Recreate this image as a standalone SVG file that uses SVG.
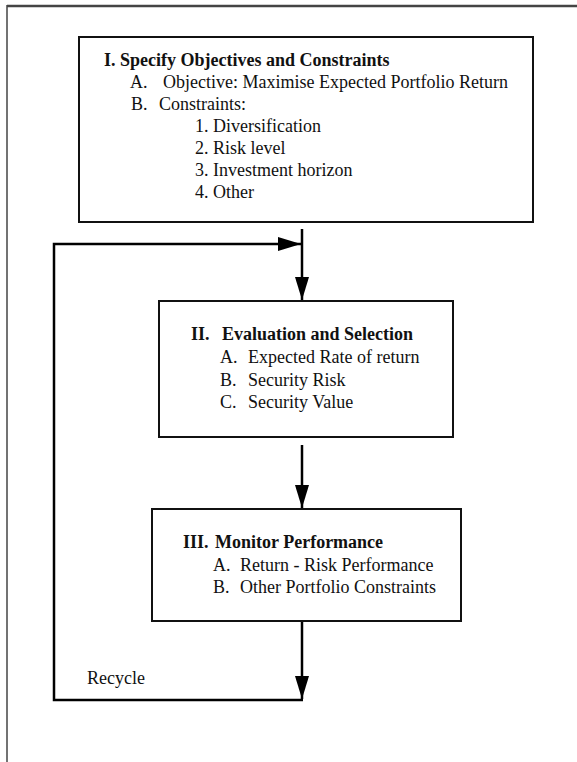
<svg xmlns="http://www.w3.org/2000/svg" width="577" height="762" viewBox="0 0 577 762">
<style>
  text { font-family: "Liberation Serif", "Times New Roman", serif; font-size: 18px; fill: #111; }
  .b { font-weight: bold; }
  .box { fill: #fff; stroke: #111; stroke-width: 2; }
  .frame { stroke: #444; fill: none; }
  .conn { stroke: #000; stroke-width: 2.5; fill: none; }
</style>
<defs>
  <marker id="ah" markerUnits="userSpaceOnUse" markerWidth="24" markerHeight="16" refX="23" refY="7" orient="auto">
    <path d="M0,0 L23,7 L0,14 Z" fill="#000"/>
  </marker>
</defs>
<rect width="577" height="762" fill="#fff"/>
<g id="frame">
  <line class="frame" x1="7" y1="6" x2="577" y2="6" stroke-width="2.5"/>
  <line class="frame" x1="7" y1="5" x2="7" y2="762" stroke-width="1.5"/>
</g>
<g id="connectors">
  <path class="conn" d="M302,229 V300" marker-end="url(#ah)"/>
  <path class="conn" d="M302,445 V508" marker-end="url(#ah)"/>
  <path class="conn" d="M302,621 V699" marker-end="url(#ah)"/>
  <path class="conn" d="M303,700 H54 V244 H301" marker-end="url(#ah)"/>
  <text x="87" y="684">Recycle</text>
</g>
<g id="node1">
  <rect class="box" x="79" y="37" width="454" height="185"/>
  <text class="b" x="104" y="66">I. Specify Objectives and Constraints</text>
  <text x="130" y="88">A.</text><text x="163" y="88">Objective: Maximise Expected Portfolio Return</text>
  <text x="131" y="110">B.</text><text x="159" y="110">Constraints:</text>
  <text x="195" y="132">1. Diversification</text>
  <text x="195" y="154">2. Risk level</text>
  <text x="195" y="176">3. Investment horizon</text>
  <text x="195" y="198">4. Other</text>
</g>
<g id="node2">
  <rect class="box" x="159" y="301" width="294" height="136"/>
  <text class="b" x="191" y="340">II.</text><text class="b" x="222" y="340">Evaluation and Selection</text>
  <text x="220" y="363">A.</text><text x="248" y="363">Expected Rate of return</text>
  <text x="220" y="386">B.</text><text x="248" y="386">Security Risk</text>
  <text x="220" y="408">C.</text><text x="248" y="408">Security Value</text>
</g>
<g id="node3">
  <rect class="box" x="152" y="509" width="309" height="112"/>
  <text class="b" x="183" y="548">III.</text><text class="b" x="215" y="548">Monitor Performance</text>
  <text x="213" y="571">A.</text><text x="240" y="571">Return - Risk Performance</text>
  <text x="213" y="593">B.</text><text x="240" y="593">Other Portfolio Constraints</text>
</g>
</svg>
